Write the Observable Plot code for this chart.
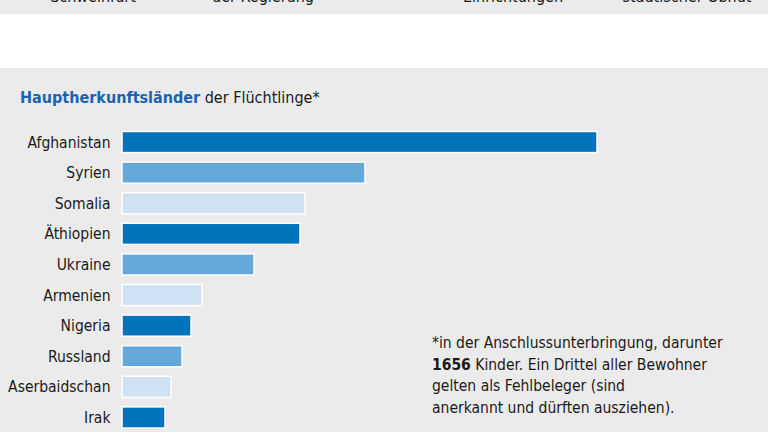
<!DOCTYPE html>
<html>
<head>
<meta charset="utf-8">
<script src="https://cdn.jsdelivr.net/npm/d3@7"></script>
<script src="https://cdn.jsdelivr.net/npm/@observablehq/plot@0.6"></script>
<style>
  html, body { margin: 0; padding: 0; }
  body { width: 768px; height: 432px; overflow: hidden; font-family: "DejaVu Sans Condensed", "Noto Sans", sans-serif; }
  #wrap { position: relative; width: 768px; height: 432px; background: #ebebeb; overflow: hidden; }
  #white { position: absolute; left: 0; top: 14px; width: 768px; height: 54px; background: #ffffff; }
  .top { position: absolute; top: -13px; font-size: 16px; color: #1a1a1a; transform: translateX(-50%); white-space: nowrap; }
  #title { position: absolute; left: 20px; top: 88px; font-size: 16px; color: #1a1a1a; white-space: nowrap; }
  #title b { color: #1b63b2; }
  #chart { position: absolute; left: 0; top: 110px; }
  #note { position: absolute; left: 432px; top: 333px; font-size: 15.5px; line-height: 21.5px; color: #1a1a1a; }
</style>
</head>
<body>
<div id="wrap">
  <div id="white"></div>
  <div class="top" style="left:93px">Schweinfurt</div>
  <div class="top" style="left:263px">der Regierung</div>
  <div class="top" style="left:513px">Einrichtungen</div>
  <div class="top" style="left:687px">städtischer Obhut</div>
  <div id="title"><b>Hauptherkunftsländer</b> der Flüchtlinge*</div>
  <div id="chart"></div>
  <div id="note">*in der Anschlussunterbringung, darunter<br><b>1656</b> Kinder. Ein Drittel aller Bewohner<br>gelten als Fehlbeleger (sind<br>anerkannt und dürften ausziehen).</div>
</div>
<script>
// Estimated relative bar lengths (no axis in the original)
const countries = ["Afghanistan", "Syrien", "Somalia", "Äthiopien", "Ukraine", "Armenien", "Nigeria", "Russland", "Aserbaidschan", "Irak"];
const values = [475, 243, 183, 178, 132, 80, 69, 60, 49, 43];
const shades = ["dunkel", "mittel", "hell", "dunkel", "mittel", "hell", "dunkel", "mittel", "hell", "dunkel"];
const shadeNames = ["dunkel", "mittel", "hell"];
const shadeColors = ["#0074bb", "#64a8da", "#d0e1f4"];

const data = countries.map((c, i) => ({country: c, value: values[i], shade: shades[i]}));

const chart = Plot.plot({
  width: 768,
  height: 330,
  marginLeft: 122,
  marginRight: 171,
  marginTop: 12,
  marginBottom: 2.5,
  style: {background: "transparent", fontFamily: "'DejaVu Sans Condensed', sans-serif", fontSize: "15.5px", color: "#1a1a1a"},
  x: {domain: [0, 475], axis: null},
  y: {domain: countries, padding: 0.31, round: false, label: null},
  color: {domain: shadeNames, range: shadeColors},
  marks: [
    Plot.barX(data, {x: "value", y: "country", fill: "shade", stroke: "#ffffff", strokeWidth: 1.5}),
    Plot.axisY({tickSize: 0, tickPadding: 12, label: null, fill: "#1a1a1a"})
  ]
});
document.getElementById("chart").appendChild(chart);
</script>
</body>
</html>
